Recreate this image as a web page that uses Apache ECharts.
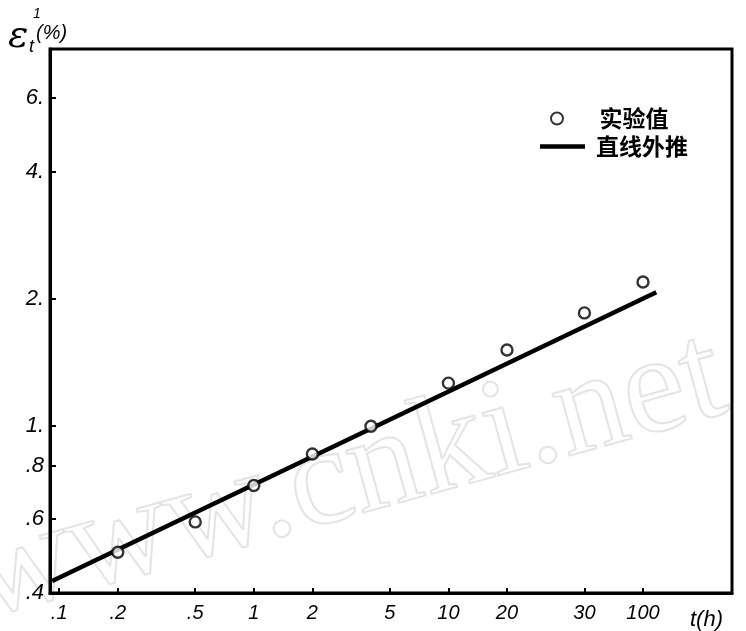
<!DOCTYPE html>
<html>
<head>
<meta charset="utf-8">
<script src="https://cdn.jsdelivr.net/npm/echarts@6/dist/echarts.min.js"></script>
<style>
  html, body { margin: 0; padding: 0; background: #fff; }
  #chart { width: 746px; height: 631px; }
</style>
</head>
<body>
<div id="chart"></div>
<script>
// Creep strain versus time, log-log scale
const xTickHours = [0.1, 0.2, 0.5, 1, 2, 5, 10, 20, 50, 100];
const xTickLabels = ['.1', '.2', '.5', '1', '2', '5', '10', '20', '30', '100'];
const yTickValues = [0.4, 0.6, 0.8, 1, 2, 4, 6];
const yTickLabels = ['.4', '.6', '.8', '1.', '2.', '4.', '6.'];

// measured points (实验值)
const testHours = [0.2, 0.5, 1, 2, 4, 10, 20, 50, 100];
const testStrain = [0.50, 0.59, 0.72, 0.855, 0.995, 1.26, 1.51, 1.85, 2.19];

// straight-line extrapolation (直线外推), end points
const fitHours = [0.092, 117];
const fitStrain = [0.427, 2.07];

const labelFor = (ticks, labels) => (v) => {
  for (let i = 0; i < ticks.length; i++) {
    if (Math.abs(Math.log10(v) - Math.log10(ticks[i])) < 1e-6) return labels[i];
  }
  return '';
};

const numFont = {
  fontFamily: 'Liberation Sans',
  fontStyle: 'italic',
  color: '#000'
};

const legendText = {
  fontFamily: 'Noto Sans CJK SC', fontSize: 23, fontWeight: 'bold', color: '#000'
};

const chart = echarts.init(document.getElementById('chart'), null, { renderer: 'canvas' });

chart.setOption({
  backgroundColor: '#fff',
  animation: false,
  grid: {
    left: 50, top: 49, right: 14, bottom: 34,
    show: true, borderColor: '#000', borderWidth: 3,
    containLabel: false
  },
  legend: [
    {
      left: 550, top: 107, padding: 0,
      itemWidth: 45, itemHeight: 12,
      textStyle: Object.assign({ padding: [0, 0, 0, 15] }, legendText),
      data: ['实验值']
    },
    {
      left: 540, top: 135, padding: 0,
      itemWidth: 45, itemHeight: 10,
      textStyle: Object.assign({ padding: [0, 0, 0, 6] }, legendText),
      data: [{ name: '直线外推', icon: 'path://M0 0 H48 V5 H0 Z' }]
    }
  ],
  xAxis: {
    type: 'log', logBase: 10,
    min: 0.0897, max: 286.6,
    name: 't(h)', nameLocation: 'end', nameGap: -42,
    nameTextStyle: Object.assign({ fontSize: 22, verticalAlign: 'top', padding: [16, 0, 0, 0] }, numFont),
    axisLine: { show: true, lineStyle: { color: '#000', width: 3 } },
    axisTick: { show: true, inside: true, length: 5, lineStyle: { color: '#000', width: 2 }, customValues: xTickHours },
    axisLabel: Object.assign({ fontSize: 20, margin: 10, customValues: xTickHours, formatter: labelFor(xTickHours, xTickLabels) }, numFont),
    splitLine: { show: false },
    minorTick: { show: false }
  },
  yAxis: {
    type: 'log', logBase: 10,
    min: 0.4, max: 7.83,
    axisLine: { show: true, lineStyle: { color: '#000', width: 3 } },
    axisTick: { show: true, inside: true, length: 6, lineStyle: { color: '#000', width: 2 }, customValues: yTickValues },
    axisLabel: Object.assign({ fontSize: 22, margin: 6, customValues: yTickValues, formatter: labelFor(yTickValues, yTickLabels) }, numFont),
    splitLine: { show: false },
    minorTick: { show: false }
  },
  graphic: [
    // light outlined watermark text
    {
      type: 'text', silent: true, z: -10,
      x: -8, y: 650, rotation: 0.27,
      style: {
        text: 'www.cnki.net',
        font: '140px "Liberation Serif"',
        fill: 'rgba(0,0,0,0)',
        stroke: '#e4e4e4', lineWidth: 2,
        textVerticalAlign: 'bottom'
      }
    },
    // y-axis title ε_t^1 (%)
    { type: 'text', x: 8, y: 18, style: { text: 'ε', font: 'italic 38px "DejaVu Serif"', fill: '#000' } },
    { type: 'text', x: 29, y: 38, style: { text: 't', font: 'italic 18px "Liberation Sans"', fill: '#000' } },
    { type: 'text', x: 33, y: 7, style: { text: '1', font: 'italic 14px "Liberation Sans"', fill: '#000' } },
    { type: 'text', x: 36, y: 23, style: { text: '(%)', font: 'italic 20px "Liberation Sans"', fill: '#000' } }
  ],
  series: [
    {
      name: '直线外推',
      type: 'line',
      symbol: 'none',
      z: 2,
      lineStyle: { color: '#000', width: 4.5 },
      itemStyle: { color: '#000' },
      data: fitHours.map((t, i) => [t, fitStrain[i]])
    },
    {
      name: '实验值',
      type: 'scatter',
      symbol: 'circle',
      symbolSize: 11,
      z: 3,
      itemStyle: { color: '#fff', borderColor: '#000', borderWidth: 2.4 },
      data: testHours.map((t, i) => [t, testStrain[i]])
    }
  ]
});
</script>
</body>
</html>
